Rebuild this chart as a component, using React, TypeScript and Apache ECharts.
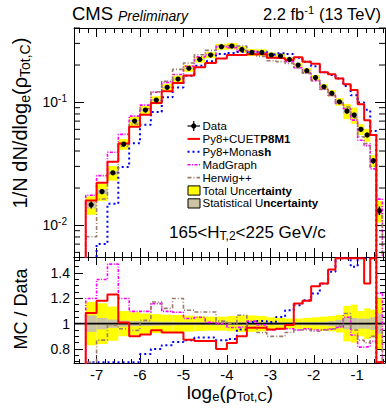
import React, { useEffect, useRef } from "react";
import * as echarts from "echarts";

// ---- data ----
const binEdges = [-7.25, -7.0, -6.75, -6.5, -6.25, -6.0, -5.75, -5.5, -5.25, -5.0, -4.75, -4.5, -4.25, -4.0, -3.77, -3.54, -3.31, -3.08, -2.87, -2.66, -2.46, -2.26, -2.06, -1.86, -1.67, -1.5, -1.32, -1.15, -0.99, -0.84, -0.7, -0.56, -0.42];
const dataValues = [0.0146, 0.0187, 0.0266, 0.0456, 0.0701, 0.0861, 0.1038, 0.1317, 0.1538, 0.188, 0.222, 0.241, 0.282, 0.285, 0.268, 0.253, 0.253, 0.241, 0.237, 0.222, 0.2, 0.18, 0.158, 0.133, 0.118, 0.1005, 0.0845, 0.0784, 0.06, 0.054, 0.0333, 0.0131];
const dataStatRel = [0.065, 0.045, 0.033, 0.025, 0.02, 0.018, 0.016, 0.015, 0.013, 0.012, 0.012, 0.012, 0.012, 0.012, 0.012, 0.012, 0.012, 0.012, 0.012, 0.012, 0.012, 0.013, 0.014, 0.015, 0.02, 0.03, 0.045, 0.045, 0.04, 0.04, 0.05, 0.08];
const totalUncRel = [0.17, 0.16, 0.135, 0.1, 0.09, 0.08, 0.075, 0.07, 0.068, 0.063, 0.058, 0.055, 0.055, 0.06, 0.065, 0.065, 0.06, 0.05, 0.045, 0.04, 0.04, 0.045, 0.05, 0.055, 0.06, 0.07, 0.14, 0.15, 0.1, 0.12, 0.11, 0.2];
const ratioCUETP8M1 = [1.084, 1.18, 1.23, 1.01, 0.9, 0.915, 0.947, 0.93, 0.93, 0.873, 0.863, 0.863, 0.8, 0.847, 0.9, 0.968, 0.968, 0.953, 0.96, 0.99, 1.158, 1.18, 1.295, 1.316, 1.427, 1.55, 1.65, 1.6, 1.6, 1.316, 1.62, 0.2];
const ratioMonash = [0.3, 0.375, 0.56, 0.65, 0.66, 0.76, 0.8, 0.83, 0.855, 0.87, 0.89, 0.89, 0.87, 0.88, 0.953, 1.013, 1.02, 1.013, 1.053, 1.105, 1.145, 1.184, 1.237, 1.316, 1.408, 1.55, 1.6, 1.448, 1.65, 1.6, 1.75, 0.2];
const ratioMadGraph = [1.198, 1.348, 1.469, 1.198, 1.097, 1.097, 1.158, 1.097, 1.09, 1.04, 1.05, 1.01, 1.0, 0.97, 0.975, 1.02, 0.99, 0.95, 0.96, 0.96, 0.95, 0.96, 0.95, 0.955, 0.96, 0.97, 1.05, 0.91, 0.815, 0.82, 0.86, 1.24];
const ratioHerwig = [0.55, 0.87, 0.987, 0.96, 0.947, 1.026, 1.17, 1.12, 1.198, 1.105, 1.092, 1.092, 1.02, 1.0, 1.066, 0.97, 0.93, 0.9, 0.9, 0.93, 0.95, 0.95, 0.94, 0.95, 0.96, 0.98, 1.08, 0.95, 0.87, 0.85, 0.9, 0.95];
const logMinorTicks = [0.006, 0.007, 0.008, 0.009, 0.02, 0.03, 0.04, 0.05, 0.06, 0.07, 0.08, 0.09, 0.2, 0.3, 0.4];

const X_MIN = -7.52, X_MAX = -0.36;
const Y_MIN = 0.0055, Y_MAX = 0.4;
const R_MIN = 0.69, R_MAX = 1.525;
const FONT = '"Liberation Sans", Arial, Helvetica, sans-serif';

const C_CUET = "#ff0000", C_MONASH = "#0000ff", C_MG = "#ff00ff", C_HW = "#9c7b6b";
const C_TOTAL = "#ffff00", C_STAT = "#cbc4a4";
const DASH_MONASH = [2, 3], DASH_MG = [3, 1.5, 1, 1.5], DASH_HW = [4, 2, 1, 2];

function stepData(vals: number[], floor: number) {
  const pts: number[][] = [[binEdges[0], floor]];
  vals.forEach((v, i) => pts.push([binEdges[i], v]));
  pts.push([binEdges[vals.length], vals[vals.length - 1]]);
  pts.push([binEdges[vals.length], floor]);
  return pts;
}
const clampR = (v: number) => Math.min(R_MAX - 0.01, Math.max(R_MIN + 0.005, v));

const boxRender = (fill: string) => (params: any, api: any) => {
  const p1 = api.coord([api.value(0), api.value(3)]);
  const p2 = api.coord([api.value(1), api.value(2)]);
  return { type: "rect", shape: { x: p1[0], y: p1[1], width: p2[0] - p1[0], height: p2[1] - p1[1] }, style: { fill } };
};

function xAx(grid: number, position: string, interval: number, len: number, showLine: boolean, showLabel: boolean) {
  return {
    type: "value", gridIndex: grid, position, min: X_MIN, max: X_MAX, splitNumber: 7,
    minInterval: interval, maxInterval: interval,
    axisLine: { show: showLine, onZero: false, lineStyle: { color: "#000", width: 1 } },
    axisTick: { show: true, inside: true, length: len, lineStyle: { color: "#000", width: 1 } },
    axisLabel: { show: showLabel, showMinLabel: false, showMaxLabel: false, color: "#000", fontSize: 15, fontFamily: FONT, margin: 4 },
    splitLine: { show: false },
  };
}
function rAx(position: string, interval: number, len: number, showLine: boolean, showLabel: boolean) {
  return {
    type: "value", gridIndex: 1, position, min: R_MIN, max: R_MAX, splitNumber: 5,
    minInterval: interval, maxInterval: interval,
    axisLine: { show: showLine, onZero: false, lineStyle: { color: "#000", width: 1 } },
    axisTick: { show: true, inside: true, length: len, lineStyle: { color: "#000", width: 1 } },
    axisLabel: { show: showLabel, showMinLabel: false, showMaxLabel: false, color: "#000", fontSize: 14, fontFamily: FONT, margin: 4 },
    splitLine: { show: false },
  };
}
function logAx(position: string, showLabel: boolean) {
  return {
    type: "log", logBase: 10, gridIndex: 0, position, min: Y_MIN, max: Y_MAX,
    axisLine: { show: true, onZero: false, lineStyle: { color: "#000", width: 1 } },
    axisTick: { show: true, inside: true, length: 10, lineStyle: { color: "#000", width: 1 } },
    axisLabel: {
      show: showLabel, showMinLabel: false, showMaxLabel: false, color: "#000", fontSize: 14, fontFamily: FONT, margin: 7,
      formatter: (v: number) => {
        const l = Math.log10(v); const e = Math.round(l);
        if (Math.abs(l - e) > 1e-6) return "";
        return "{b|10}{s|" + e + "}";
      },
      rich: {
        b: { fontSize: 14, fontFamily: FONT, color: "#000" },
        s: { fontSize: 10, fontFamily: FONT, color: "#000", padding: [0, 0, 8, 0] },
      },
    },
    splitLine: { show: false },
  };
}

function lineSeries(name: string, data: number[][], color: string, width: number, dash: any, xi: number, yi: number) {
  return {
    name, type: "line", xAxisIndex: xi, yAxisIndex: yi, data, step: "end", showSymbol: false, symbol: "none", clip: true,
    lineStyle: { color, width, type: dash }, z: 3,
  };
}

export default function App() {
  const ref = useRef<HTMLDivElement>(null);
  useEffect(() => {
    document.body.style.margin = "0";
    if (!ref.current) return;
    const chart = echarts.init(ref.current, null, { renderer: "svg" });

    const totalBoxes = dataValues.map((d, i) => [binEdges[i], binEdges[i + 1], d * (1 - totalUncRel[i]), d * (1 + totalUncRel[i])]);
    const statBoxes = dataValues.map((d, i) => [binEdges[i], binEdges[i + 1], d * (1 - dataStatRel[i]), d * (1 + dataStatRel[i])]);
    const totalBands = totalUncRel.map((u, i) => [binEdges[i], binEdges[i + 1], 1 - u, 1 + u]);
    const statBands = dataStatRel.map((u, i) => [binEdges[i], binEdges[i + 1], 1 - u, 1 + u]);
    const points = dataValues.map((d, i) => [(binEdges[i] + binEdges[i + 1]) / 2, d, d * (1 - dataStatRel[i]), d * (1 + dataStatRel[i])]);
    const mcTop = (r: number[]) => stepData(r.map((v, i) => v * dataValues[i]), 1e-4);
    const mcRatio = (r: number[]) => stepData(r.map(clampR), 0);

    const txt = (extra: any) => ({ type: "text", silent: true, ...extra });
    const LY = [126, 138.9, 151.8, 164.7, 177.6, 190.5, 203.4];
    const LX1 = 187.5, LX2 = 200, LT = 202.5;
    const legFont = { fontSize: 11.5, fontFamily: FONT, fill: "#000" };
    const richLeg = { n: { fontSize: 11.5, fontFamily: FONT, fill: "#000" }, b: { fontSize: 11.5, fontFamily: FONT, fontWeight: "bold", fill: "#000" } };
    const legText = (i: number, text: string) => txt({ style: { x: LT, y: LY[i], text, ...legFont, rich: richLeg, align: "left", verticalAlign: "middle" } });
    const legLine = (i: number, color: string, w: number, dash: any) => ({ type: "line", silent: true, shape: { x1: LX1, y1: LY[i], x2: LX2, y2: LY[i] }, style: { stroke: color, lineWidth: w, lineDash: dash } });

    const graphic: any[] = [
      txt({ style: { x: 72, y: 13.8, text: "CMS", fontSize: 18.5, fontWeight: "normal", fontFamily: FONT, fill: "#000", align: "left", verticalAlign: "middle" } }),
      txt({ style: { x: 118, y: 15.6, text: "Preliminary", fontSize: 14, fontStyle: "italic", fontFamily: FONT, fill: "#000", align: "left", verticalAlign: "middle" } }),
      txt({ style: { x: 381, y: 14.3, text: "{n|2.2 fb}{s|-1}{n| (13 TeV)}", fontSize: 16.5, fontFamily: FONT, fill: "#000", align: "right", verticalAlign: "middle",
        rich: { n: { fontSize: 16.5, fontFamily: FONT, fill: "#000" }, s: { fontSize: 11, fontFamily: FONT, fill: "#000", padding: [0, 0, 9, 0] } } } }),
      txt({ x: 20, y: 123, rotation: Math.PI / 2, style: { x: 0, y: 0, text: "{n|1/N dN/dlog}{s|e}{n|(\u03c1}{s|Tot,C}{n|)}", fontSize: 20, fontFamily: FONT, fill: "#000", align: "center", verticalAlign: "middle",
        rich: { n: { fontSize: 20, fontFamily: FONT, fill: "#000" }, s: { fontSize: 14, fontFamily: FONT, fill: "#000", padding: [9, 0, 0, 0] } } } }),
      txt({ x: 21, y: 309, rotation: Math.PI / 2, style: { x: 0, y: 0, text: "MC / Data", fontSize: 18, fontFamily: FONT, fill: "#000", align: "center", verticalAlign: "middle" } }),
      txt({ style: { x: 230, y: 392, text: "{n|log}{s|e}{n|(\u03c1}{s|Tot,C}{n|)}", fontSize: 19, fontFamily: FONT, fill: "#000", align: "center", verticalAlign: "middle",
        rich: { n: { fontSize: 19, fontFamily: FONT, fill: "#000" }, s: { fontSize: 13, fontFamily: FONT, fill: "#000", padding: [8, 0, 0, 0] } } } }),
      txt({ style: { x: 169, y: 232, text: "{n|165<H}{s|T,2}{n|<225 GeV/c}", fontSize: 17, fontFamily: FONT, fill: "#000", align: "left", verticalAlign: "middle",
        rich: { n: { fontSize: 17, fontFamily: FONT, fill: "#000" }, s: { fontSize: 12, fontFamily: FONT, fill: "#000", padding: [8, 0, 0, 0] } } } }),
      // legend
      { type: "line", silent: true, shape: { x1: LX1, y1: LY[0], x2: LX2, y2: LY[0] }, style: { stroke: "#000", lineWidth: 1.2 } },
      { type: "line", silent: true, shape: { x1: (LX1 + LX2) / 2, y1: LY[0] - 5, x2: (LX1 + LX2) / 2, y2: LY[0] + 5 }, style: { stroke: "#000", lineWidth: 1.2 } },
      { type: "circle", silent: true, shape: { cx: (LX1 + LX2) / 2, cy: LY[0], r: 2.6 }, style: { fill: "#000" } },
      legText(0, "{n|Data}"),
      legLine(1, C_CUET, 2, null), legText(1, "{n|Py8+CUET}{b|P8M1}"),
      legLine(2, C_MONASH, 2, DASH_MONASH), legText(2, "{n|Py8+Mona}{b|sh}"),
      legLine(3, C_MG, 1.6, DASH_MG), legText(3, "{n|MadGraph}"),
      legLine(4, C_HW, 1.6, DASH_HW), legText(4, "{n|Herwig++}"),
      { type: "rect", silent: true, shape: { x: 188, y: LY[5] - 4.6, width: 12, height: 9.2 }, style: { fill: C_TOTAL, stroke: "#000", lineWidth: 1 } },
      legText(5, "{n|Total Unce}{b|rtainty}"),
      { type: "rect", silent: true, shape: { x: 188, y: LY[6] - 4.6, width: 12, height: 9.2 }, style: { fill: C_STAT, stroke: "#000", lineWidth: 1 } },
      legText(6, "{n|Statistical U}{b|ncertainty}"),
    ];

    const option: any = {
      animation: false,
      backgroundColor: "#fff",
      textStyle: { fontFamily: FONT },
      grid: [
        { left: 74, top: 28, width: 311, height: 229, containLabel: false },
        { left: 74, top: 257, width: 311, height: 106, containLabel: false },
      ],
      xAxis: [
        xAx(0, "bottom", 1, 9, true, false),
        xAx(0, "bottom", 0.2, 5, false, false),
        xAx(0, "top", 1, 9, true, false),
        xAx(0, "top", 0.2, 5, false, false),
        xAx(1, "bottom", 1, 8, true, true),
        xAx(1, "bottom", 0.2, 4, false, false),
        xAx(1, "top", 1, 8, true, false),
        xAx(1, "top", 0.2, 4, false, false),
      ],
      yAxis: [
        logAx("left", true),
        logAx("right", false),
        rAx("left", 0.2, 9, true, true),
        rAx("left", 0.05, 5, false, false),
        rAx("right", 0.2, 9, true, false),
        rAx("right", 0.05, 5, false, false),
      ],
      series: [
        { type: "custom", name: "Total Uncertainty", xAxisIndex: 0, yAxisIndex: 0, clip: true, renderItem: boxRender(C_TOTAL), data: totalBoxes, encode: { x: [0, 1], y: [2, 3] }, z: 1 },
        { type: "custom", name: "Statistical Uncertainty", xAxisIndex: 0, yAxisIndex: 0, clip: true, renderItem: boxRender(C_STAT), data: statBoxes, encode: { x: [0, 1], y: [2, 3] }, z: 1 },
        lineSeries("Py8+Monash", mcTop(ratioMonash), C_MONASH, 2, DASH_MONASH, 0, 0),
        lineSeries("MadGraph", mcTop(ratioMadGraph), C_MG, 1.6, DASH_MG, 0, 0),
        lineSeries("Herwig++", mcTop(ratioHerwig), C_HW, 1.6, DASH_HW, 0, 0),
        lineSeries("Py8+CUETP8M1", mcTop(ratioCUETP8M1), C_CUET, 2, "solid", 0, 0),
        {
          type: "custom", name: "Data", xAxisIndex: 0, yAxisIndex: 0, clip: true, z: 5, data: points, encode: { x: 0, y: [1, 2, 3] },
          renderItem: (params: any, api: any) => {
            const x = api.value(0);
            const c = api.coord([x, api.value(1)]);
            const a = api.coord([x, api.value(2)]);
            const b = api.coord([x, api.value(3)]);
            return { type: "group", children: [
              { type: "line", shape: { x1: a[0], y1: a[1], x2: b[0], y2: b[1] }, style: { stroke: "#000", lineWidth: 1.2 } },
              { type: "circle", shape: { cx: c[0], cy: c[1], r: 2.6 }, style: { fill: "#000" } },
            ] };
          },
        },
        {
          type: "custom", name: "minorTicks", xAxisIndex: 0, yAxisIndex: 0, clip: false, z: 6, data: logMinorTicks.map((v) => [X_MIN, v]), encode: { x: 0, y: 1 },
          renderItem: (params: any, api: any) => {
            const v = api.value(1);
            const l = api.coord([X_MIN, v]);
            const r = api.coord([X_MAX, v]);
            return { type: "group", children: [
              { type: "line", shape: { x1: l[0], y1: l[1], x2: l[0] + 6, y2: l[1] }, style: { stroke: "#000", lineWidth: 1 } },
              { type: "line", shape: { x1: r[0], y1: r[1], x2: r[0] - 6, y2: r[1] }, style: { stroke: "#000", lineWidth: 1 } },
            ] };
          },
        },
        // ratio panel
        { type: "custom", name: "Total band", xAxisIndex: 4, yAxisIndex: 2, clip: true, renderItem: boxRender(C_TOTAL), data: totalBands, encode: { x: [0, 1], y: [2, 3] }, z: 1 },
        { type: "custom", name: "Stat band", xAxisIndex: 4, yAxisIndex: 2, clip: true, renderItem: boxRender(C_STAT), data: statBands, encode: { x: [0, 1], y: [2, 3] }, z: 1 },
        { type: "line", name: "unity", xAxisIndex: 4, yAxisIndex: 2, data: [[X_MIN, 1], [X_MAX, 1]], showSymbol: false, symbol: "none", lineStyle: { color: "#000", width: 1.6 }, z: 2 },
        lineSeries("r Monash", mcRatio(ratioMonash), C_MONASH, 2, DASH_MONASH, 4, 2),
        lineSeries("r MadGraph", mcRatio(ratioMadGraph), C_MG, 1.6, DASH_MG, 4, 2),
        lineSeries("r Herwig", mcRatio(ratioHerwig), C_HW, 1.6, DASH_HW, 4, 2),
        lineSeries("r CUET", mcRatio(ratioCUETP8M1), C_CUET, 2, "solid", 4, 2),
      ],
      graphic,
    };
    chart.setOption(option);
    return () => chart.dispose();
  }, []);
  return <div ref={ref} style={{ width: 386, height: 409 }} />;
}
